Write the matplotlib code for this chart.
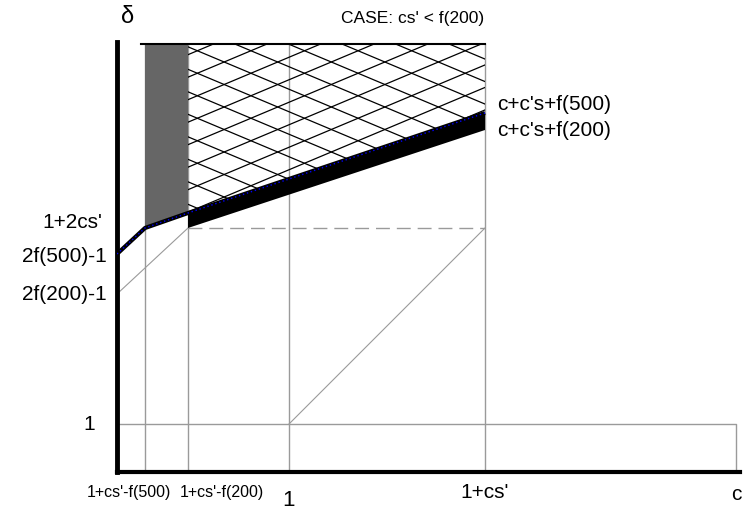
import matplotlib.pyplot as plt
import numpy as np
from matplotlib.patches import Polygon

plt.rcParams['font.family'] = ['Liberation Sans', 'DejaVu Sans']

# schematic positions (c axis, delta axis)
c_ticks = [0.28, 0.71, 1.72, 3.68, 6.19]
c_labels = ["1+cs'-f(500)", "1+cs'-f(200)", "1", "1+cs'", "c"]
d_ticks = [0.48, 1.78, 2.18, 2.44]
d_labels = ["1", "2f(200)-1", "2f(500)-1", "1+2cs'"]

# boundary c+c's+f(500) (with the kinks on the left)
bound_c = [0.0, 0.28, 0.71, 3.68]
bound_d = [2.18, 2.44, 2.59, 3.59]
# lower edge of black band c+c's+f(200)
low_c = [0.71, 3.68]
low_d = [2.44, 3.42]
top_d = 4.28

fig = plt.figure(figsize=(7.54, 5.17), dpi=100)
ax = fig.add_axes([117/754, 45/517, 623/754, 430/517])
ax.set_xlim(0, 6.23)
ax.set_ylim(0, 4.30)
for s in ['top', 'right']:
    ax.spines[s].set_visible(False)
ax.spines['left'].set_linewidth(3.5)
ax.spines['bottom'].set_linewidth(3)
ax.set_xticks([])
ax.set_yticks([])

grey = '#9a9a9a'
# thin grid-like lines
for x in c_ticks[:4]:
    ax.plot([x, x], [0, top_d], color=grey, lw=1, zorder=1)
ax.plot([0, c_ticks[4], c_ticks[4]], [d_ticks[0], d_ticks[0], 0], color=grey, lw=1, zorder=1)
ax.plot([c_ticks[1], c_ticks[3]], [d_ticks[3], d_ticks[3]], color=grey, lw=1,
        ls=(0, (10, 5)), zorder=1)
ax.plot([0, c_ticks[1]], [d_ticks[1], d_ticks[3]], color=grey, lw=0.8, zorder=1)
ax.plot([c_ticks[2], c_ticks[3]], [d_ticks[0], d_ticks[3]], color=grey, lw=0.8, zorder=1)

# grey strip
ax.fill([c_ticks[0], c_ticks[1], c_ticks[1], c_ticks[0]],
        [bound_d[1], bound_d[2], top_d, top_d], color='#666666', lw=0, zorder=2)

# cross hatched region
hatch = Polygon([[c_ticks[1], bound_d[2]], [c_ticks[3], bound_d[3]],
                 [c_ticks[3], top_d], [c_ticks[1], top_d]], closed=True,
                facecolor='none', edgecolor='none')
ax.add_patch(hatch)
slope = 0.42
for b in np.arange(-4, 8, 0.225):
    xs = np.array([0.5, 4.0])
    for sgn in (1, -1):
        l, = ax.plot(xs, b + sgn * slope * xs, color='black', lw=0.9, zorder=2)
        l.set_clip_path(hatch)
ax.plot([0.24, c_ticks[3]], [top_d, top_d], color='black', lw=1.5, zorder=3)

# black band
ax.fill([low_c[0], low_c[1], low_c[1], low_c[0]],
        [low_d[0], low_d[1], bound_d[3], bound_d[2]], color='black', lw=0, zorder=3)

# boundary
ax.plot(bound_c, bound_d, color='black', lw=3, zorder=4, solid_capstyle='butt')
ax.plot(bound_c, bound_d, color='blue', lw=1, ls=(0, (1, 2)), zorder=5)

# labels
fs = 15
ax.text(-0.22, d_ticks[0], d_labels[0], ha='right', va='center', fontsize=fs)
ax.text(-0.10, d_ticks[1], d_labels[1], ha='right', va='center', fontsize=fs)
ax.text(-0.10, d_ticks[2] - 0.03, d_labels[2], ha='right', va='center', fontsize=fs)
ax.text(-0.15, d_ticks[3] + 0.05, d_labels[3], ha='right', va='center', fontsize=fs)

narrow = ['Liberation Sans Narrow', 'Liberation Sans']
ax.text(c_ticks[0] - 0.16, -0.20, c_labels[0], ha='center', va='center', fontsize=11.5,
        family=narrow)
ax.text(c_ticks[1] + 0.34, -0.20, c_labels[1], ha='center', va='center', fontsize=11.5,
        family=narrow)
ax.text(c_ticks[2], -0.29, c_labels[2], ha='center', va='center', fontsize=16)
ax.text(c_ticks[3], -0.20, c_labels[3], ha='center', va='center', fontsize=fs)
ax.text(c_ticks[4], -0.23, c_labels[4], ha='center', va='center', fontsize=fs)

ax.text(c_ticks[3] + 0.12, bound_d[3] + 0.09, "c+c's+f(500)", ha='left', va='center', fontsize=fs)
ax.text(c_ticks[3] + 0.12, low_d[1], "c+c's+f(200)", ha='left', va='center', fontsize=fs)

ax.text(0.11, 4.55, "δ", ha='center', va='center', fontsize=17)
ax.text(2.96, 4.54, "CASE: cs' < f(200)", ha='center', va='center', fontsize=12.5)

for t in ax.texts:
    t.set_clip_on(False)

fig.savefig('out.png', dpi=100)
